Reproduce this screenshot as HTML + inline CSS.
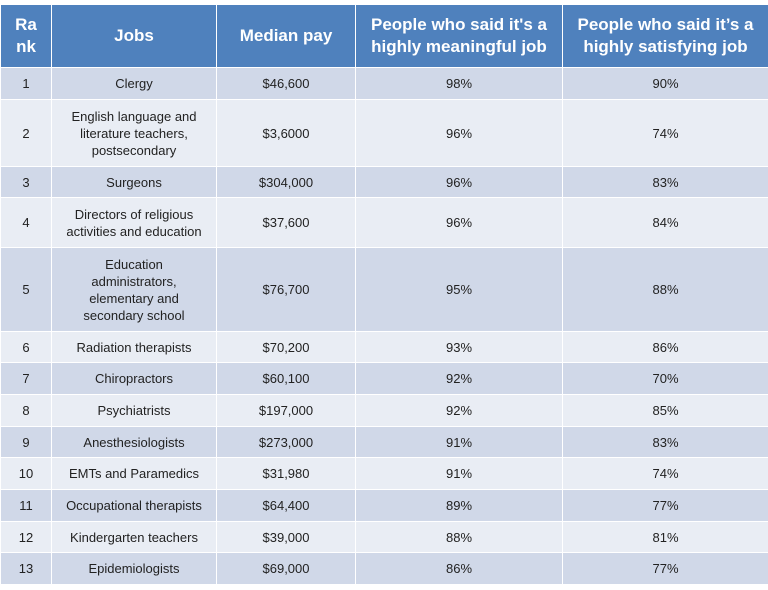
<!DOCTYPE html>
<html><head><meta charset="utf-8"><style>
body{margin:0;background:#fff;width:768px;height:590px;overflow:hidden;font-family:"Liberation Sans",Arial,sans-serif}
table{position:absolute;left:0;top:4px;border-collapse:collapse;table-layout:fixed;width:768px}
td,th{border:1px solid #fff;text-align:center;vertical-align:middle;padding:0 4px;font-size:13px;color:#222;line-height:17px}
th{background:#4F81BD;color:#fff;font-size:17px;line-height:22px;font-weight:bold}
tr.o td{background:#D0D8E8}
tr.e td{background:#E9EDF4}
td.w{padding:0 18px}
</style></head><body>
<table>
<colgroup><col style="width:51px"><col style="width:165px"><col style="width:139px"><col style="width:207px"><col style="width:206px"></colgroup>
<tr style="height:63px"><th>Ra<br>nk</th><th>Jobs</th><th>Median pay</th><th>People who said it's a highly meaningful job</th><th>People who said it’s a highly satisfying job</th></tr>
<tr class="o" style="height:32px"><td>1</td><td>Clergy</td><td>$46,600</td><td>98%</td><td>90%</td></tr>
<tr class="e" style="height:67px"><td>2</td><td>English language and literature teachers, postsecondary</td><td>$3,6000</td><td>96%</td><td>74%</td></tr>
<tr class="o" style="height:31px"><td>3</td><td>Surgeons</td><td>$304,000</td><td>96%</td><td>83%</td></tr>
<tr class="e" style="height:50px"><td>4</td><td>Directors of religious activities and education</td><td>$37,600</td><td>96%</td><td>84%</td></tr>
<tr class="o" style="height:84px"><td>5</td><td class="w">Education administrators, elementary and secondary school</td><td>$76,700</td><td>95%</td><td>88%</td></tr>
<tr class="e" style="height:31px"><td>6</td><td>Radiation therapists</td><td>$70,200</td><td>93%</td><td>86%</td></tr>
<tr class="o" style="height:32px"><td>7</td><td>Chiropractors</td><td>$60,100</td><td>92%</td><td>70%</td></tr>
<tr class="e" style="height:32px"><td>8</td><td>Psychiatrists</td><td>$197,000</td><td>92%</td><td>85%</td></tr>
<tr class="o" style="height:31px"><td>9</td><td>Anesthesiologists</td><td>$273,000</td><td>91%</td><td>83%</td></tr>
<tr class="e" style="height:32px"><td>10</td><td>EMTs and Paramedics</td><td>$31,980</td><td>91%</td><td>74%</td></tr>
<tr class="o" style="height:32px"><td>11</td><td>Occupational therapists</td><td>$64,400</td><td>89%</td><td>77%</td></tr>
<tr class="e" style="height:31px"><td>12</td><td>Kindergarten teachers</td><td>$39,000</td><td>88%</td><td>81%</td></tr>
<tr class="o" style="height:32px"><td>13</td><td>Epidemiologists</td><td>$69,000</td><td>86%</td><td>77%</td></tr>
</table>
</body></html>
